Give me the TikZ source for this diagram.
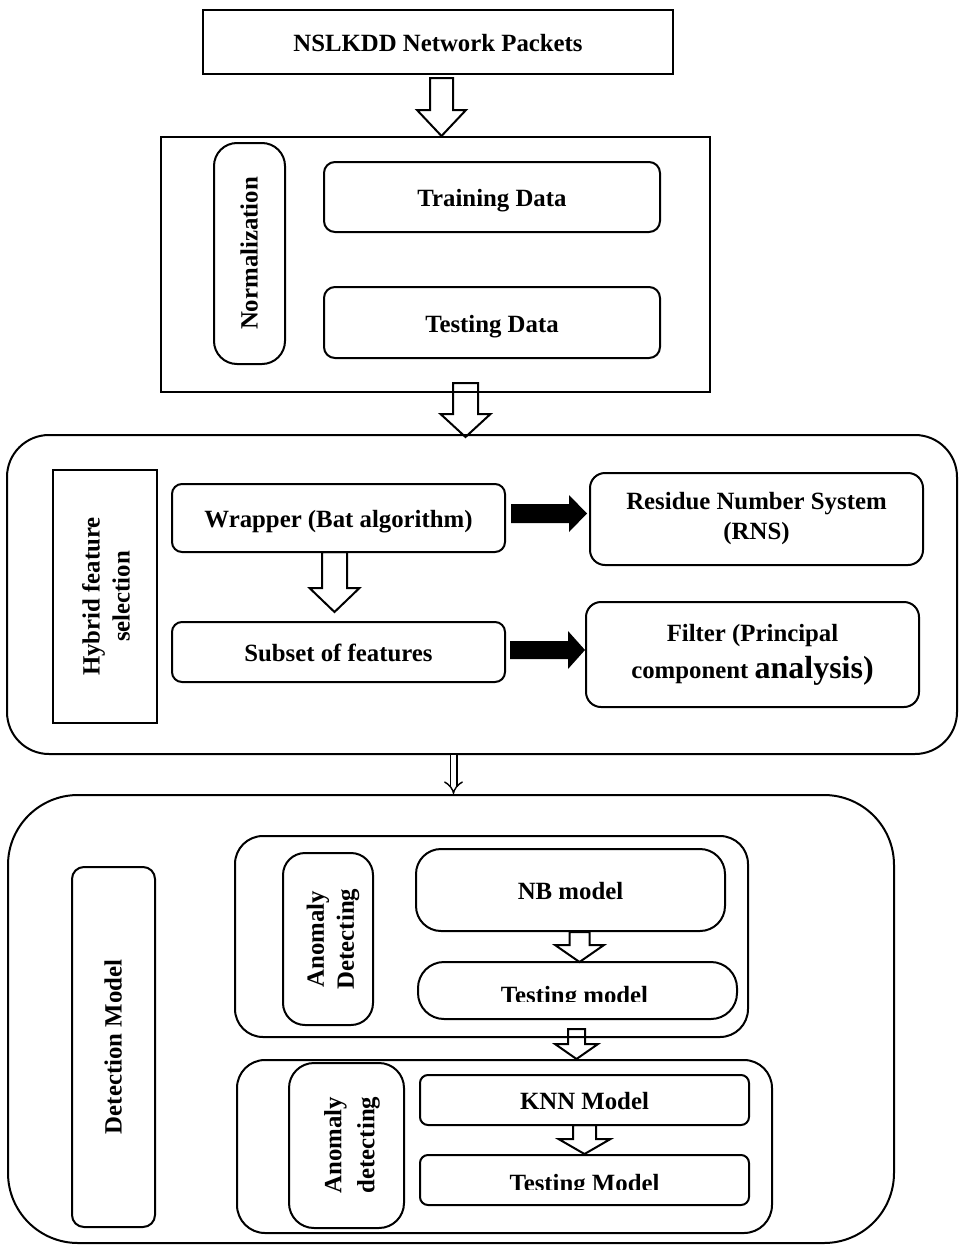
\documentclass[tikz,border=0pt]{standalone}
\usepackage{fontspec}
\setmainfont{Liberation Serif}
\usetikzlibrary{arrows.meta}
\newcommand{\dfnt}{\bfseries\fontsize{24.8}{30}\selectfont}
% hollow block arrow: x centre, y top, y head, y tip, shaft half width, head half width
\newcommand{\hollowarr}[6]{%
  \draw[harr] ({#1-#5},#2) -- ({#1+#5},#2) -- ({#1+#5},#3) -- ({#1+#6},#3) -- (#1,#4) -- ({#1-#6},#3) -- ({#1-#5},#3) -- cycle;}
% black block arrow: x start, x head, x tip, y centre, shaft half, head half
\newcommand{\blackarr}[6]{%
  \fill ({#1},{#4-#5}) -- ({#2},{#4-#5}) -- ({#2},{#4-#6}) -- (#3,#4) -- ({#2},{#4+#6}) -- ({#2},{#4+#5}) -- ({#1},{#4+#5}) -- cycle;}
\begin{document}
\begin{tikzpicture}[x=1pt,y=-1pt,
  box/.style={draw, line width=2pt, inner sep=0pt, font=\dfnt},
  one/.style={text height=19.3pt, text depth=0pt},
  plain/.style={draw, line width=2pt, inner sep=0pt},
  vtxt/.style={inner sep=0pt, font=\dfnt, align=center, rotate=90},
  harr/.style={draw, line width=2pt, line join=miter},
  ctxt/.style={inner sep=0pt, font=\dfnt, anchor=base}
]
\useasboundingbox (0,0) rectangle (959,1245);

% ---- source
\node[box, one, minimum width=470pt, minimum height=64pt] (src) at (438,42) {NSLKDD Network Packets};

% ---- normalization block
\node[plain, minimum width=549pt, minimum height=255pt] (normbox) at (435.5,264.5) {};
\node[box, one, text height=16.3pt, rounded corners=23pt, rotate=90, minimum width=221pt, minimum height=71pt] (norm) at (249.5,253.5) {Normalization};
\node[box, one, rounded corners=11pt, minimum width=336pt, minimum height=70pt] (train) at (492,197) {Training Data};
\node[box, one, rounded corners=11pt, minimum width=336pt, minimum height=71pt] (testd) at (492,322.5) {Testing Data};

% ---- hybrid feature selection
\node[plain, rounded corners=42pt, minimum width=950pt, minimum height=319pt] (hybbox) at (482,594.5) {};
\node[plain, minimum width=104pt, minimum height=253pt] (hyb) at (105,596.5) {};
\node[vtxt] (hybt) at (106,596.5) {Hybrid feature\\selection};
\node[box, one, rounded corners=10pt, minimum width=333pt, minimum height=68pt] (wrap) at (338.5,518) {Wrapper (Bat algorithm)};
\node[box, one, rounded corners=10pt, minimum width=333pt, minimum height=60pt] (subset) at (338.5,652) {Subset of features};
\node[box, rounded corners=15pt, align=center, minimum width=333pt, minimum height=92pt] (rns) at (756.5,519) {Residue Number System\\(RNS)};
\node[box, rounded corners=15pt, align=center, font=\bfseries\fontsize{24.8}{37}\selectfont, minimum width=333pt, minimum height=105pt] (filt) at (752.5,654.5) {Filter (Principal\\component {\fontsize{32}{37}\selectfont analysis)}};

% ---- detection model
\node[plain, rounded corners=70pt, minimum width=886pt, minimum height=448pt] (detbox) at (451,1019) {};
\node[box, one, text height=16.3pt, rounded corners=12pt, rotate=90, minimum width=360pt, minimum height=83pt] (det) at (113.5,1047) {Detection Model};

\node[plain, rounded corners=28pt, minimum width=513pt, minimum height=201pt] (grp1) at (491.5,936.5) {};
\node[plain, rounded corners=22pt, rotate=90, minimum width=172pt, minimum height=90pt] (anom1) at (328,939) {};
\node[vtxt] (anom1t) at (333,939) {Anomaly\\Detecting};
\node[box, one, rounded corners=25pt, minimum width=309pt, minimum height=82pt] (nb) at (570.5,890) {NB model};
\node[plain, rounded corners=26pt, minimum width=319pt, minimum height=57pt] (tm1) at (577.5,990.5) {};
\begin{scope}
  \clip (420,965) rectangle (736,1001);
  \node[ctxt] (tm1t) at (574.5,1003.3) {Testing model};
\end{scope}

\node[plain, rounded corners=28pt, minimum width=535pt, minimum height=173pt] (grp2) at (504.5,1146.5) {};
\node[plain, rounded corners=25pt, rotate=90, minimum width=165pt, minimum height=115pt] (anom2) at (346.5,1145.5) {};
\node[vtxt, font=\bfseries\fontsize{24.8}{33}\selectfont] (anom2t) at (352,1145) {Anomaly\\detecting};
\node[box, one, rounded corners=8pt, minimum width=329pt, minimum height=50pt] (knn) at (584.5,1100) {KNN Model};
\node[plain, rounded corners=8pt, minimum width=329pt, minimum height=50pt] (tm2) at (584.5,1180) {};
\begin{scope}
  \clip (422,1160) rectangle (747,1189);
  \node[ctxt] (tm2t) at (584.5,1191.3) {Testing Model};
\end{scope}

% ---- hollow block arrows
\hollowarr{441.5}{78}{110}{136}{11.5}{24.5}
\hollowarr{465.5}{383}{414}{437}{12.5}{25}
\hollowarr{334.5}{552}{588}{612}{12.5}{25}
\hollowarr{579.5}{932}{945}{962}{10}{24.5}
\hollowarr{576.5}{1029}{1044}{1059}{8.5}{21.5}
\hollowarr{584.5}{1125}{1139}{1154}{11.5}{26}

% ---- black block arrows
\blackarr{511}{569}{587}{513.5}{9.5}{18.5}
\blackarr{510}{568}{585}{650}{9}{19}

% ---- thin double arrow
\coordinate (dA) at (453.5,755);
\coordinate (dB) at (453.5,794);
\draw[line width=1.4pt, double, double distance=5.2pt, -{Implies}] (dA) -- (dB);
\end{tikzpicture}
\end{document}
